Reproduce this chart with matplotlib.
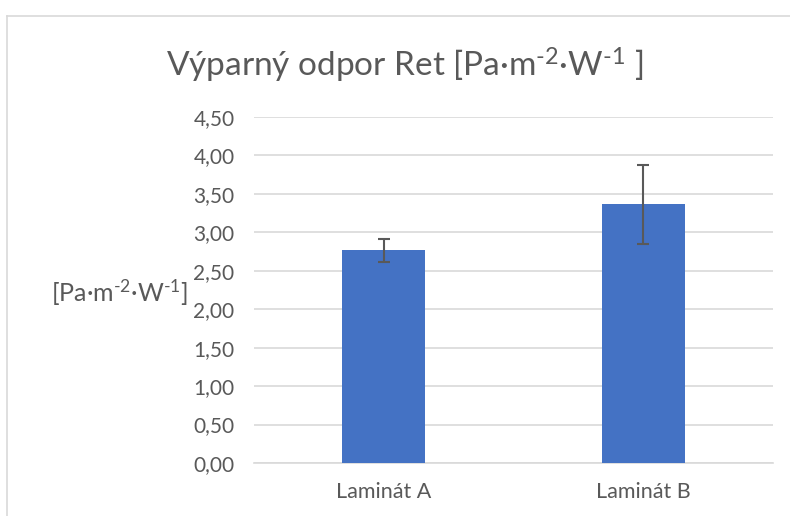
import matplotlib.pyplot as plt
from matplotlib.lines import Line2D
from matplotlib.ticker import FuncFormatter

# data
categories = ["Laminát A", "Laminát B"]
values = [2.765, 3.365]
errors = [0.145, 0.515]
yticks = [0, 0.5, 1.0, 1.5, 2.0, 2.5, 3.0, 3.5, 4.0, 4.5]

plt.rcParams['font.family'] = ['Lato', 'DejaVu Sans']
plt.rcParams['mathtext.fontset'] = 'custom'
plt.rcParams['mathtext.rm'] = 'Lato'
plt.rcParams['mathtext.it'] = 'Lato'

txt = '#595959'
fig = plt.figure(figsize=(7.9, 5.16), dpi=100)
ax = fig.add_axes([254/790, 53/516, 519/790, 346/516])

x = range(len(categories))
ax.bar(x, values, width=0.32, color='#4472C4', zorder=3)
ax.errorbar(x, values, yerr=errors, fmt='none', ecolor=txt, elinewidth=1.5,
            capsize=4.5, capthick=1.5, zorder=4)

ax.set_xlim(-0.5, 1.5)
ax.set_ylim(0, 4.5)
ax.set_yticks(yticks)
ax.yaxis.set_major_formatter(FuncFormatter(lambda v, p: f"{v:.2f}".replace('.', ',')))
ax.set_xticks(list(x))
ax.set_xticklabels(categories)
ax.tick_params(axis='y', length=0, labelsize=15, colors=txt, pad=14)
ax.tick_params(axis='x', length=0, labelsize=15.5, colors=txt, pad=14)
ax.grid(axis='y', color='#D9D9D9', linewidth=1.2, zorder=0)
for s in ['top', 'right', 'left']:
    ax.spines[s].set_visible(False)
ax.spines['bottom'].set_color('#D9D9D9')
ax.spines['bottom'].set_linewidth(1.2)

sup2 = r'$^{\text{-2}}$'
sup1 = r'$^{\text{-1}}$'
fig.text(405/790, 1 - 65/516, 'Výparný odpor Ret [Pa·m' + sup2 + '·W' + sup1 + ' ]',
         ha='center', va='center', fontsize=24, color=txt)
fig.text(119/790, 1 - 293/516, '[Pa·m' + sup2 + '·W' + sup1 + ']',
         ha='center', va='center', fontsize=18, color=txt)

# chart frame (cropped)
fig.add_artist(Line2D([7/790, 7/790], [0, 1 - 16/516], color='#D9D9D9', lw=1.2))
fig.add_artist(Line2D([7/790, 1], [1 - 16/516, 1 - 16/516], color='#D9D9D9', lw=1.2))

fig.savefig('out.png')
